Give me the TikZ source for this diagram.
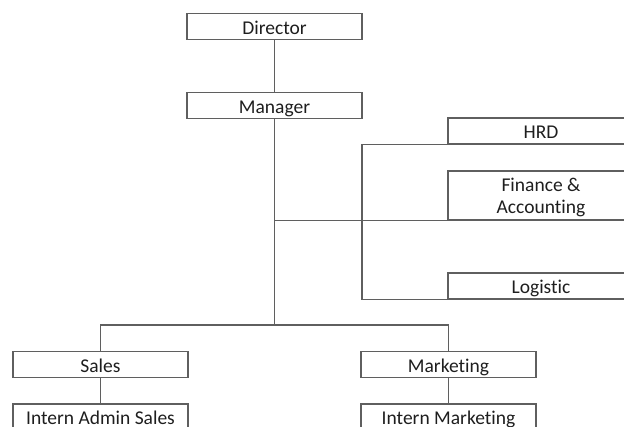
\documentclass[tikz,border=0pt]{standalone}
\usepackage{fontspec}
\setmainfont{Carlito}[Ligatures={NoCommon}]
\usepackage{tikz}

\definecolor{linegray}{RGB}{95,95,95}
\definecolor{textgray}{RGB}{30,30,30}

\begin{document}
\begin{tikzpicture}[x=1pt,y=-1pt,
  box/.style={draw=linegray,line width=1.1pt,rectangle,inner sep=0pt,
    minimum width=175pt,minimum height=26pt,text=textgray,
    font=\fontsize{19.5}{22}\selectfont,text height=16pt,text depth=0pt},
  widebox/.style={box,minimum width=186pt},
  link/.style={draw=linegray,line width=1.1pt}]
  \clip (0,0) rectangle (624,427);

  \node[box] (director) at (274.5,26.5) {Director};
  \node[box] (manager) at (274.5,105.5) {Manager};

  \node[widebox] (hrd) at (541,131) {HRD};
  \node[widebox,minimum height=49pt,align=center,text height=37pt,text depth=0pt]
    (finance) at (541,195.5) {Finance \&\\Accounting};
  \node[widebox] (logistic) at (541,286) {Logistic};

  \node[box] (sales) at (100.5,364.5) {Sales};
  \node[box] (marketing) at (448.5,364.5) {Marketing};
  \node[box] (internsales) at (100.5,417) {Intern Admin Sales};
  \node[box] (internmkt) at (448.5,417) {Intern Marketing};

  \coordinate (split) at (274.5,325);
  \coordinate (rail) at (362,220);

  \draw[link] (director.south) -- (manager.north);
  \draw[link] (manager.south) -- (split);
  \draw[link] (manager.south |- finance.south west) -- (finance.south west);
  \draw[link] (hrd.south west) -| (rail) |- (logistic.south west);
  \draw[link] (sales.north) |- (split) -| (marketing.north);
  \draw[link] (sales.south) -- (internsales.north);
  \draw[link] (marketing.south) -- (internmkt.north);
\end{tikzpicture}
\end{document}
